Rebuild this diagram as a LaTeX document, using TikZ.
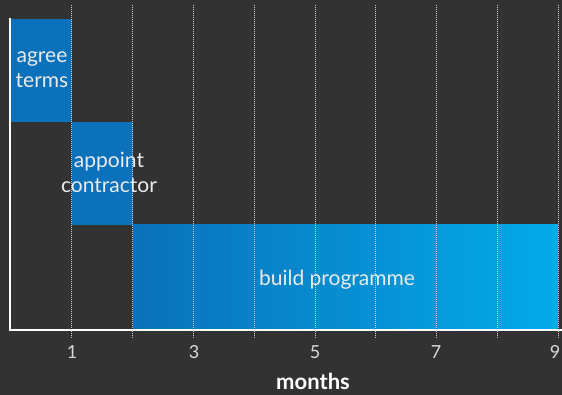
\documentclass[tikz,border=0pt]{standalone}
\usepackage{fontspec}
\setmainfont{Lato}
\definecolor{bgc}{HTML}{323232}
\definecolor{barblue}{HTML}{0A71BA}
\definecolor{lightblue}{HTML}{03ABE9}
\begin{document}
\begin{tikzpicture}[x=1pt,y=-1pt,
  bar/.style={inner sep=0pt, outer sep=0pt, anchor=north west},
  lbl/.style={text=white!92!black, font=\fontsize{21}{25}\selectfont, align=center, inner sep=0pt},
  tick/.style={text=white!85!black, font=\fontsize{18}{20}\selectfont, inner sep=0pt},
  grid/.style={white!80!black, line width=0.6pt, dash pattern=on 0.8pt off 1.2pt},
  axis/.style={white, line width=2.2pt}]
\fill[bgc] (0,0) rectangle (562,395);
\useasboundingbox (0,0) rectangle (562,395);
% bars
\node[bar, fill=barblue, minimum width=61pt, minimum height=103pt] (agree) at (11,19) {};
\node[bar, fill=barblue, minimum width=61pt, minimum height=103pt] (appoint) at (72,122) {};
\node[bar, left color=barblue, right color=lightblue, minimum width=425pt, minimum height=105pt] (build) at (133,225) {};
% grid lines
\foreach \m in {1,...,9} {
  \coordinate (gt\m) at ({11+60.78*\m},5);
  \coordinate (gb\m) at ({11+60.78*\m},338);
  \draw[grid] (gt\m) -- (gb\m);
}
% axes
\coordinate (ytop) at (10,18);
\coordinate (origin) at (10,330);
\coordinate (xend) at (562,330);
\draw[axis] (ytop) -- (origin) -- (xend);
% labels
\node[lbl] (t1) at (42,70) {agree\\terms};
\node[lbl] (t2) at (109,172) {appoint\\contractor};
\node[lbl] (t3) at (337,280) {build programme};
% ticks
\node[tick] (n1) at (72,352) {1};
\node[tick] (n3) at (194,352) {3};
\node[tick] (n5) at (315,352) {5};
\node[tick] (n7) at (436,352) {7};
\node[tick] (n9) at (555,352) {9};
\node[text=white, font=\fontsize{22}{24}\selectfont\bfseries, inner sep=0pt] (months) at (313,381) {months};
\end{tikzpicture}
\end{document}
